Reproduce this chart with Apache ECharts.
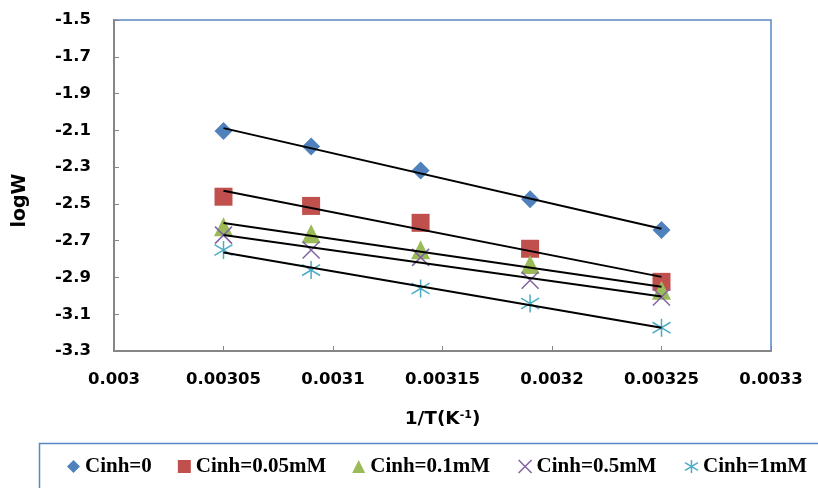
<!DOCTYPE html>
<html>
<head>
<meta charset="utf-8">
<script src="https://cdn.jsdelivr.net/npm/echarts@6/dist/echarts.min.js"></script>
<style>html,body{margin:0;padding:0;background:#fff;}#c{width:818px;height:488px;}</style>
</head>
<body>
<div id="c"></div>
<script>
// 1/T values (K^-1)
const invT = [0.00305, 0.00309, 0.00314, 0.00319, 0.00325];
// logW series
const cinh0    = [-2.103, -2.188, -2.319, -2.475, -2.642];
const cinh005  = [-2.461, -2.511, -2.603, -2.744, -2.924];
const cinh01   = [-2.624, -2.662, -2.750, -2.829, -2.969];
const cinh05   = [-2.670, -2.751, -2.791, -2.915, -3.006];
const cinh1    = [-2.751, -2.860, -2.960, -3.042, -3.173];
const seriesNames = ['Cinh=0', 'Cinh=0.05mM', 'Cinh=0.1mM', 'Cinh=0.5mM', 'Cinh=1mM'];
const yTicks = { min: -3.3, max: -1.5, step: 0.2 };
const xTicks = { min: 0.003, max: 0.0033, step: 0.00005 };

const allY = [cinh0, cinh005, cinh01, cinh05, cinh1];
const colors = ['#4F81BD', '#C0504D', '#9BBB59', '#8064A2', '#4BACC6'];
const XPATH = 'path://M0,0L10,10M10,0L0,10';
const STARPATH = 'path://M5,0L5,10M0,2L10,8M0,8L10,2';
const symbols = ['diamond', 'rect', 'triangle', XPATH, STARPATH];
const sizes = [18, 18, 19, 17, 18];
const hollow = [false, false, false, true, true];

function fit(xs, ys) {
  const n = xs.length;
  const mx = xs.reduce((a, b) => a + b, 0) / n;
  const my = ys.reduce((a, b) => a + b, 0) / n;
  let sxy = 0, sxx = 0;
  for (let i = 0; i < n; i++) { sxy += (xs[i] - mx) * (ys[i] - my); sxx += (xs[i] - mx) * (xs[i] - mx); }
  const b = sxy / sxx, a = my - b * mx;
  return [[xs[0], a + b * xs[0]], [xs[n - 1], a + b * xs[n - 1]]];
}

const series = [];
allY.forEach((ys, i) => {
  series.push({
    name: seriesNames[i],
    type: 'scatter',
    symbol: symbols[i],
    symbolSize: sizes[i],
    data: invT.map((x, j) => [x, ys[j]]),
    itemStyle: hollow[i]
      ? { color: 'none', borderColor: colors[i], borderWidth: 1.5, opacity: 1 }
      : { color: colors[i], opacity: 1 },
    z: 2
  });
});
allY.forEach((ys, i) => {
  series.push({
    name: 'trend' + i,
    type: 'line',
    data: fit(invT, ys),
    symbol: 'none',
    lineStyle: { color: '#000', width: 2 },
    silent: true,
    z: 3
  });
});

const legendData = seriesNames.map((n, i) => ({
  name: n,
  icon: symbols[i],
  itemStyle: hollow[i]
    ? { color: 'none', borderColor: colors[i], borderWidth: 1.5 }
    : { color: colors[i], borderWidth: 0 }
}));

const labelFont = { fontFamily: 'DejaVu Sans', fontWeight: 'bold', fontSize: 16.5, color: '#000' };

const chart = echarts.init(document.getElementById('c'), null, { renderer: 'canvas' });
chart.setOption({
  animation: false,
  backgroundColor: '#fff',
  grid: { left: 114, right: 47, top: 20, bottom: 137, show: true, borderColor: '#5b87c4', borderWidth: 1.5, backgroundColor: 'transparent' },
  xAxis: {
    type: 'value', min: xTicks.min, max: xTicks.max, interval: xTicks.step,
    name: '1/T(K{sup|-1})',
    nameLocation: 'middle', nameGap: 59,
    nameTextStyle: {
      fontFamily: 'DejaVu Sans', fontWeight: 'bold', fontSize: 18.5, color: '#000',
      rich: { sup: { fontFamily: 'DejaVu Sans', fontWeight: 'bold', fontSize: 11, verticalAlign: 'top', padding: [0, 0, 6, 0], color: '#000' } }
    },
    axisLine: { lineStyle: { color: '#868686', width: 2 } },
    axisTick: { inside: true, length: 5, lineStyle: { color: '#868686', width: 1 } },
    splitLine: { show: false },
    axisLabel: Object.assign({ margin: 20, formatter: v => String(+v.toFixed(5)) }, labelFont)
  },
  yAxis: {
    type: 'value', min: yTicks.min, max: yTicks.max, interval: yTicks.step,
    name: 'logW',
    nameLocation: 'middle', nameGap: 84, nameRotate: 90,
    nameTextStyle: { fontFamily: 'DejaVu Sans', fontWeight: 'bold', fontSize: 19, color: '#000', padding: [0, 30, 0, 0] },
    axisLine: { lineStyle: { color: '#868686', width: 2 } },
    axisTick: { inside: true, length: 5, lineStyle: { color: '#868686', width: 1 } },
    splitLine: { show: false },
    axisLabel: Object.assign({ margin: 23, formatter: v => v.toFixed(1) }, labelFont)
  },
  legend: {
    data: legendData,
    left: 62, top: 451,
    itemGap: 26, itemWidth: 13, itemHeight: 13,
    textStyle: { fontFamily: 'Liberation Serif', fontWeight: 'bold', fontSize: 21, color: '#000' }
  },
  graphic: [{
    type: 'rect', left: 37, top: 441, silent: true,
    shape: { width: 820, height: 60 },
    style: { fill: 'none', stroke: '#5b87c4', lineWidth: 1.5 }
  }],
  series: series
});
</script>
</body>
</html>
